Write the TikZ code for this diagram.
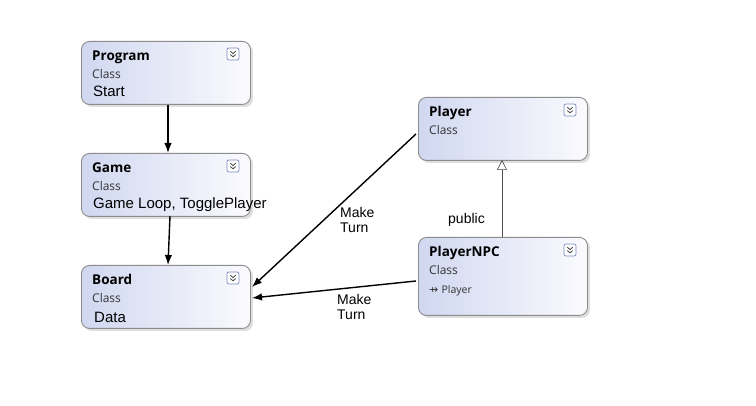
\documentclass[tikz,border=0pt]{standalone}
\usepackage{fontspec}
\setmainfont{Liberation Sans}
\newfontfamily\uifont{Open Sans}
\newfontfamily\symfont{DejaVu Sans}
\usetikzlibrary{arrows.meta,shadows}
\definecolor{boxleft}{HTML}{D0D7F0}
\definecolor{boxright}{HTML}{FBFBFE}
\definecolor{boxborder}{HTML}{8C8C8C}
\definecolor{iconborder}{HTML}{7A8BC0}
\tikzset{
  classbox/.style={draw=boxborder, line width=0.9pt, rounded corners=8pt,
    left color=boxleft, right color=boxright, minimum width=169pt,
    drop shadow={shadow xshift=2.5pt, shadow yshift=-2.5pt, fill=black!25}},
  ttl/.style={anchor=base west, inner sep=0pt, font=\uifont\bfseries\fontsize{13.5}{14}\selectfont},
  cls/.style={anchor=base west, inner sep=0pt, font=\uifont\fontsize{12}{13}\selectfont, text=black!80},
  mem/.style={anchor=base west, inner sep=0pt, font=\fontsize{15}{16}\selectfont},
  icon/.style={draw=iconborder, rounded corners=2pt, fill=white, minimum size=12pt, inner sep=0pt, line width=0.7pt},
  conn/.style={line width=1.4pt, -{Latex[length=10pt,width=7.5pt]}},
  lbl/.style={font=\fontsize{14}{15}\selectfont, align=left, anchor=north west, inner sep=0pt}
}
\newcommand{\chev}[1]{%
  \node[icon] (#1) {};
  \draw[line width=0.8pt, draw=black!75] ([xshift=-2.7pt,yshift=2.7pt]#1.center) -- ([yshift=0.5pt]#1.center) -- ([xshift=2.7pt,yshift=2.7pt]#1.center);
  \draw[line width=0.8pt, draw=black!75] ([xshift=-2.7pt,yshift=-0.6pt]#1.center) -- ([yshift=-2.8pt]#1.center) -- ([xshift=2.7pt,yshift=-0.6pt]#1.center);
}
\begin{document}
\begin{tikzpicture}[x=1pt,y=-1pt]
\useasboundingbox[fill=white] (0,0) rectangle (756,406);
% boxes
\node[classbox, minimum height=63pt, anchor=north west] (prog) at (81,41) {};
\node[classbox, minimum height=63pt, anchor=north west] (game) at (81,153) {};
\node[classbox, minimum height=63pt, anchor=north west] (board) at (81,265) {};
\node[classbox, minimum height=63pt, anchor=north west] (player) at (418,97) {};
\node[classbox, minimum height=78pt, anchor=north west] (npc) at (418,237) {};
% texts
\node[ttl] (progt) at (92,61) {Program};
\node[cls] (progc) at (92,79) {Class};
\node[mem] (progm) at (93,97) {Start};
\node[ttl] (gamet) at (92,173) {Game};
\node[cls] (gamec) at (92,191) {Class};
\node[mem] (gamem) at (93,209) {Game Loop, TogglePlayer};
\node[ttl] (boardt) at (92,285) {Board};
\node[cls] (boardc) at (92,303) {Class};
\node[mem] (boardm) at (94,323) {Data};
\node[ttl] (playert) at (429,117) {Player};
\node[cls] (playerc) at (429,135) {Class};
\node[ttl] (npct) at (429,257) {PlayerNPC};
\node[cls] (npcc) at (429,275) {Class};
\node[anchor=base west, inner sep=0pt, font=\uifont\fontsize{10.5}{12}\selectfont, text=black!80] (npcm) at (429,294) {{\symfont\fontsize{11}{12}\selectfont ⇸}\hspace{0.3em}Player};
% icons
\begin{scope}[shift={(233,54)}]\chev{i1}\end{scope}
\begin{scope}[shift={(233,166)}]\chev{i2}\end{scope}
\begin{scope}[shift={(233,278)}]\chev{i3}\end{scope}
\begin{scope}[shift={(570,110)}]\chev{i4}\end{scope}
\begin{scope}[shift={(570,250)}]\chev{i5}\end{scope}
% connectors
\coordinate (a1) at (168,104);
\coordinate (a2) at (168,153);
\draw[conn] (prog.south -| a1) -- (game.north -| a2);
\coordinate (b1) at (170,216);
\coordinate (b2) at (168,265);
\draw[conn] (b1) -- (b2);
\coordinate (c1) at (416,134);
\coordinate (c2) at (252,287);
\draw[conn] (c1) -- (c2);
\coordinate (d1) at (416,281);
\coordinate (d2) at (252,298);
\draw[conn] (d1) -- (d2);
\coordinate (e1) at (502,237);
\coordinate (e2) at (502,160);
\draw[line width=0.6pt, draw=black!70, -{Triangle[open,length=10pt,width=10pt]}] (e1) -- (e2);
% labels
\node[lbl] (l1) at (340,207) {Make\\Turn};
\node[lbl] (l2) at (337,294) {Make\\Turn};
\node[anchor=base west, inner sep=0pt, font=\fontsize{14}{15}\selectfont] (pub) at (448,224) {public};
\end{tikzpicture}
\end{document}
